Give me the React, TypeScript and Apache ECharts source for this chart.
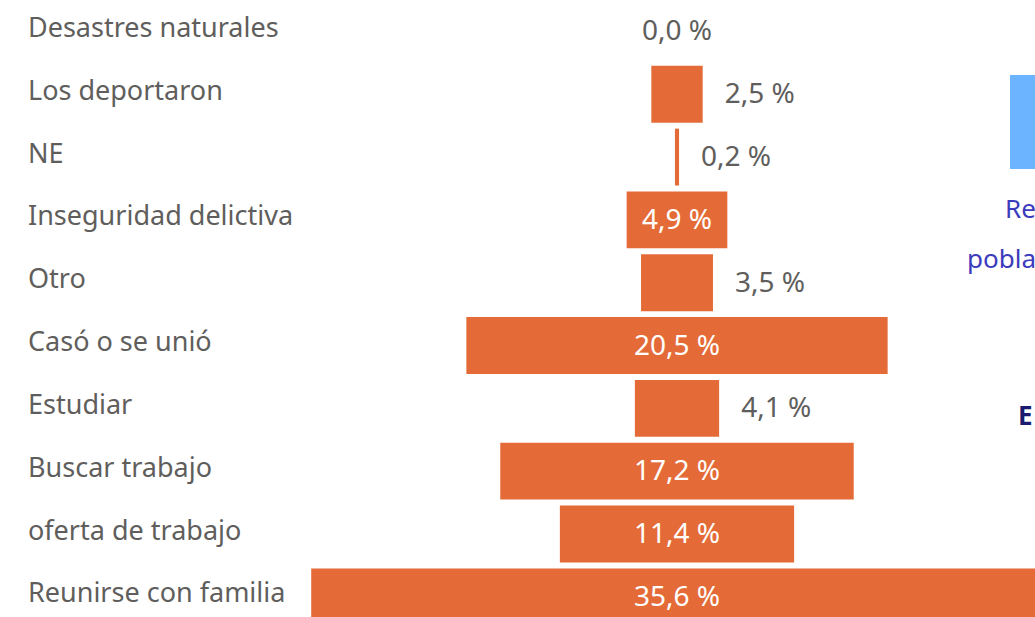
import React, { useEffect, useRef } from "react";
import * as echarts from "echarts";

const categories = [
  "Desastres naturales",
  "Los deportaron",
  "NE",
  "Inseguridad delictiva",
  "Otro",
  "Casó o se unió",
  "Estudiar",
  "Buscar trabajo",
  "oferta de trabajo",
  "Reunirse con familia",
];
const values = [0.0, 2.5, 0.2, 4.9, 3.5, 20.5, 4.1, 17.2, 11.4, 35.6];
const axisMax = 40;

const ORANGE = "#E46B37";
const GRAY = "#605E5C";
const FONT = "Noto Sans";

const fmt = (v: number) => v.toFixed(1).replace(".", ",") + " %";

export default function App() {
  const ref = useRef<HTMLDivElement>(null);
  useEffect(() => {
    document.body.style.margin = "0";
    document.body.style.overflow = "hidden";
    const chart = echarts.init(ref.current!, undefined, { renderer: "svg" });
    const offsets = values.map((v) => (axisMax - v) / 2);
    const visible = values.map((v) => {
      if (v === 0) {
        return { value: v, label: { position: "inside", color: GRAY } };
      }
      if (v >= 4.5) {
        return { value: v, label: { position: "inside", color: "#ffffff" } };
      }
      return { value: v, label: { position: "right", distance: 22, color: GRAY } };
    });
    chart.setOption({
      animation: false,
      grid: { left: 266, width: 822, top: -4.25, height: 632.5, containLabel: false },
      xAxis: {
        type: "value",
        min: 0,
        max: axisMax,
        show: false,
      },
      yAxis: {
        type: "category",
        data: categories,
        inverse: true,
        axisLine: { show: false },
        axisTick: { show: false },
        splitLine: { show: false },
        axisLabel: {
          align: "left",
          verticalAlign: "bottom",
          lineHeight: 10,
          margin: 266 - 28,
          color: GRAY,
          fontFamily: FONT,
          fontSize: 27,
        },
      },
      series: [
        {
          type: "bar",
          stack: "s",
          data: offsets,
          itemStyle: { color: "transparent" },
          silent: true,
          barCategoryGap: "9.5%",
        },
        {
          type: "bar",
          stack: "s",
          data: visible,
          itemStyle: { color: ORANGE },
          barCategoryGap: "9.5%",
          label: {
            show: true,
            formatter: (p: any) => fmt(p.value),
            fontFamily: FONT,
            fontSize: 28,
            offset: [0, -2],
          },
        },
      ],
      graphic: [
        {
          type: "rect",
          shape: { x: 1010, y: 75, width: 40, height: 94 },
          style: { fill: "#6CB4FF" },
        },
        {
          type: "text",
          x: 1005,
          y: 208,
          style: {
            text: "Re",
            fill: "#3B3BBD",
            font: `26px ${FONT}`,
            verticalAlign: "middle",
          },
        },
        {
          type: "text",
          x: 967,
          y: 258,
          style: {
            text: "pobla",
            fill: "#3B3BBD",
            font: `26px ${FONT}`,
            verticalAlign: "middle",
          },
        },
        {
          type: "text",
          x: 1018,
          y: 415,
          style: {
            text: "E",
            fill: "#1A1A6E",
            font: `bold 26px ${FONT}`,
            verticalAlign: "middle",
          },
        },
      ],
    });
    return () => chart.dispose();
  }, []);
  return <div ref={ref} style={{ width: 1100, height: 700 }} />;
}
